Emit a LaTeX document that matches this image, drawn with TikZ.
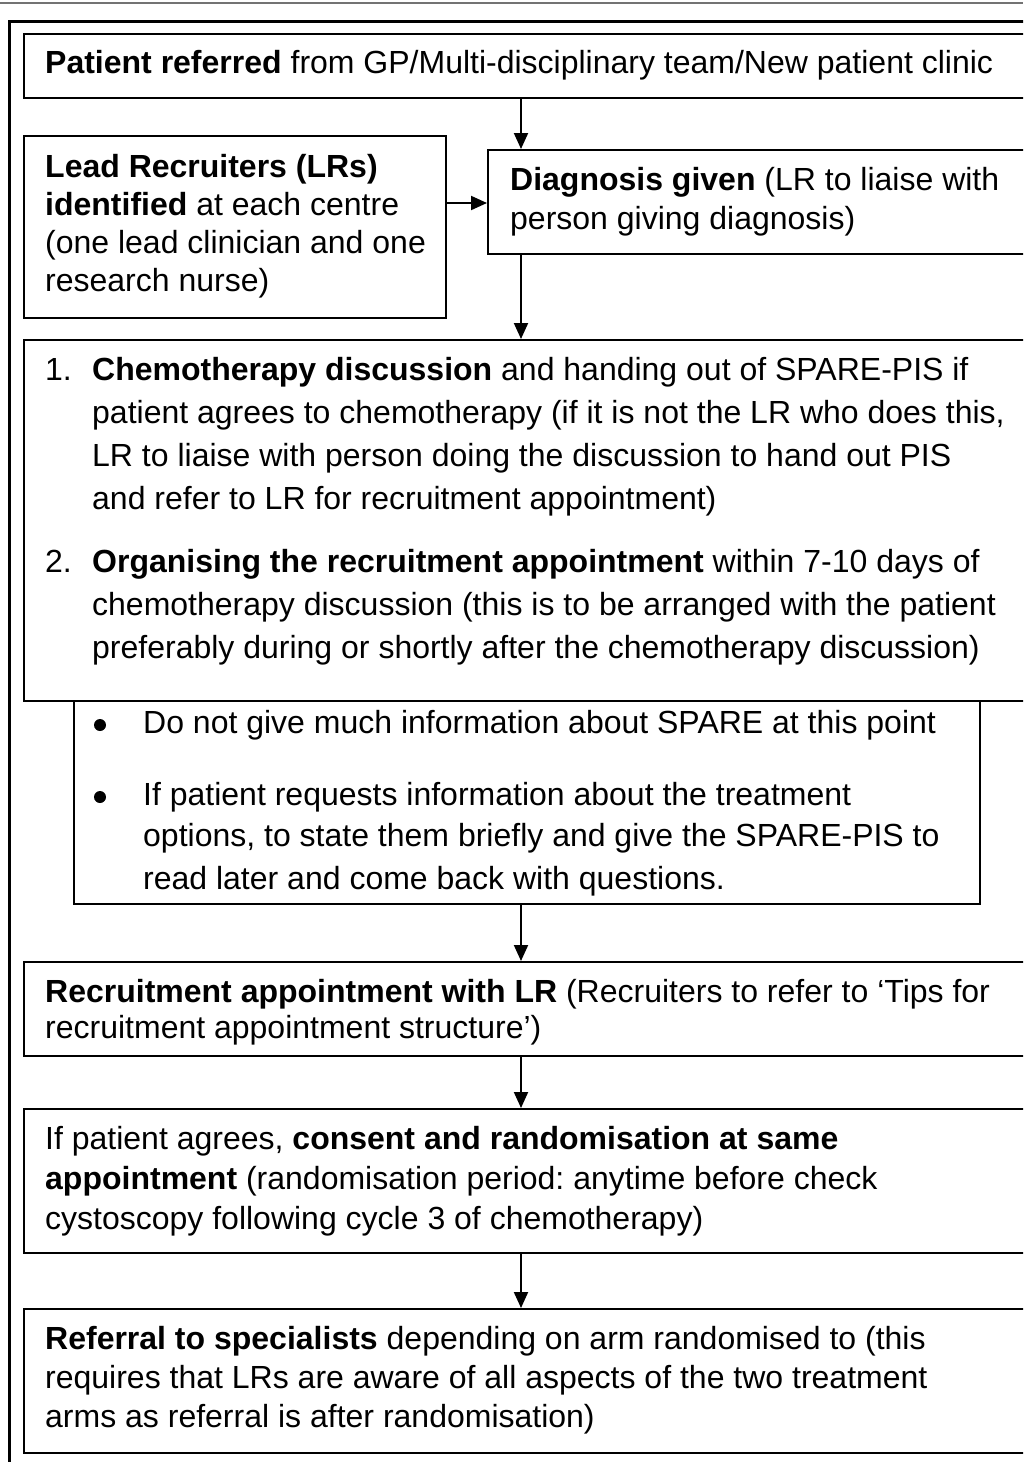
\documentclass[tikz,border=0pt]{standalone}
\usepackage{fontspec}
\setmainfont{Liberation Sans}
\usetikzlibrary{arrows.meta}
\frenchspacing
\newcommand\dfont{\fontsize{32}{38}\selectfont}
\begin{document}
\begin{tikzpicture}[x=1pt,y=-1pt,
  box/.style={draw, line width=2pt, anchor=north west, inner sep=0pt},
  txt/.style={anchor=base west, inner sep=0pt, font=\dfont},
  arr/.style={line width=2pt, -{Triangle[length=16pt,width=14pt]}}]
\useasboundingbox (0,0) rectangle (1023,1462);
\clip (0,0) rectangle (1023,1462);
% top rule and outer frame
\draw[line width=1.3pt, black!55] (0,3) -- (1023,3);
\draw[line width=3pt] (9.5,1470) -- (9.5,21.5) -- (1040,21.5);
% boxes
\node[box, minimum width=1017pt, minimum height=64pt] (b1) at (23,33) {};
\node[box, minimum width=422pt, minimum height=182pt] (lr) at (23,135) {};
\node[box, minimum width=553pt, minimum height=104pt] (diag) at (487,149) {};
\node[box, minimum width=1017pt, minimum height=361pt] (chemo) at (23,339) {};
\node[box, minimum width=906pt, minimum height=203pt] (bul) at (73,700) {};
\node[box, minimum width=1017pt, minimum height=94pt] (rec) at (23,961) {};
\node[box, minimum width=1017pt, minimum height=144pt] (con) at (23,1108) {};
\node[box, minimum width=1017pt, minimum height=144pt] (ref) at (23,1308) {};
% connectors
\coordinate (col) at (521,0);
\coordinate (lry) at (0,203);
\draw[arr] (b1.south -| col) -- (diag.north -| col);
\draw[arr] (lr.east |- lry) -- (diag.west |- lry);
\draw[arr] (diag.south -| col) -- (chemo.north -| col);
\draw[arr] (bul.south -| col) -- (rec.north -| col);
\draw[arr] (rec.south -| col) -- (con.north -| col);
\draw[arr] (con.south -| col) -- (ref.north -| col);
% texts
\node[txt] (t1) at (45,73) {\textbf{Patient referred} from GP/Multi-disciplinary team/New patient clinic};
\node[txt] (l1) at (45,177) {\textbf{Lead Recruiters (LRs)}};
\node[txt] (l2) at (45,215) {\textbf{identified} at each centre};
\node[txt] (l3) at (45,253) {(one lead clinician and one};
\node[txt] (l4) at (45,291) {research nurse)};
\node[txt] (d1) at (510,190) {\textbf{Diagnosis given} (LR to liaise with};
\node[txt] (d2) at (510,229) {person giving diagnosis)};
\node[txt] (n1) at (45,380) {1.};
\node[txt] (c1) at (92,380) {\textbf{Chemotherapy discussion} and handing out of SPARE-PIS if};
\node[txt] (c2) at (92,423) {patient agrees to chemotherapy (if it is not the LR who does this,};
\node[txt] (c3) at (92,466) {LR to liaise with person doing the discussion to hand out PIS};
\node[txt] (c4) at (92,509) {and refer to LR for recruitment appointment)};
\node[txt] (n2) at (45,572) {2.};
\node[txt] (c5) at (92,572) {\textbf{Organising the recruitment appointment} within 7-10 days of};
\node[txt] (c6) at (92,615) {chemotherapy discussion (this is to be arranged with the patient};
\node[txt] (c7) at (92,658) {preferably during or shortly after the chemotherapy discussion)};
\fill (100,725) circle (6);
\node[txt] (p1) at (143,733) {Do not give much information about SPARE at this point};
\fill (100,797) circle (6);
\node[txt] (p2) at (143,805) {If patient requests information about the treatment};
\node[txt] (p3) at (143,846) {options, to state them briefly and give the SPARE-PIS to};
\node[txt] (p4) at (143,889) {read later and come back with questions.};
\node[txt] (r1) at (45,1002) {\textbf{Recruitment appointment with LR} (Recruiters to refer to ‘Tips for};
\node[txt] (r2) at (45,1038) {recruitment appointment structure’)};
\node[txt] (k1) at (45,1149) {If patient agrees, \textbf{consent and randomisation at same}};
\node[txt] (k2) at (45,1189) {\textbf{appointment} (randomisation period: anytime before check};
\node[txt] (k3) at (45,1229) {cystoscopy following cycle 3 of chemotherapy)};
\node[txt] (f1) at (45,1349) {\textbf{Referral to specialists} depending on arm randomised to (this};
\node[txt] (f2) at (45,1388) {requires that LRs are aware of all aspects of the two treatment};
\node[txt] (f3) at (45,1427) {arms as referral is after randomisation)};
\end{tikzpicture}
\end{document}
